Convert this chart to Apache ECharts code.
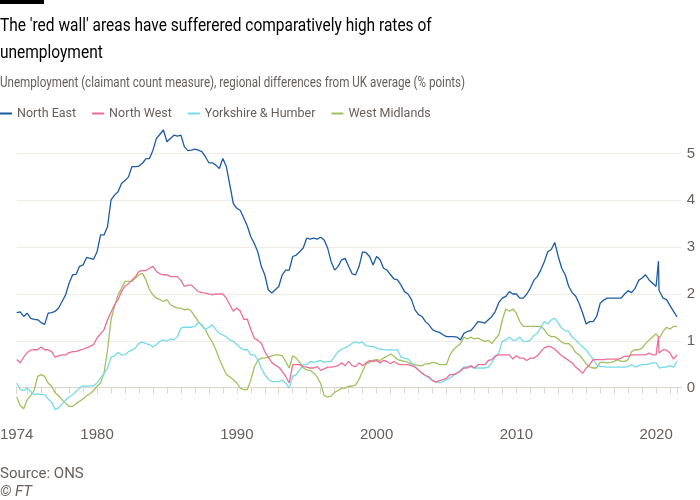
<!DOCTYPE html>
<html><head><meta charset="utf-8">
<script src="https://cdn.jsdelivr.net/npm/echarts@6/dist/echarts.min.js"></script>
<style>html,body{margin:0;padding:0;background:#fff}#c{width:700px;height:500px}</style>
</head><body><div id="c"></div>
<script>
// ---- data (quarterly readings, differences from UK average, % points) ----
const seriesNames = ['North East', 'North West', 'Yorkshire & Humber', 'West Midlands'];
const startYear = 1974.25;   // first quarterly observation (Apr 1974)
const stepYears = 0.25;      // quarterly
const axisStartMonth = [1974, 4];
const axisEndMonth = [2021, 11];
const lastDataMonth = '2021-07';
const xLabelYears = [1974, 1980, 1990, 2000, 2010, 2020];
const yTickValues = [0, 1, 2, 3, 4, 5];

const northEast = [
  1.60, 1.62, 1.52,
  1.59, 1.48, 1.46, 1.45,  1.39, 1.35, 1.59, 1.60,  1.63, 1.70, 1.84, 1.98,
  2.23, 2.41, 2.42, 2.59,  2.62, 2.78, 2.76, 2.74,  2.90, 3.26, 3.26, 3.44,
  4.01, 4.11, 4.18, 4.36,  4.42, 4.50, 4.72, 4.72,  4.73, 4.79, 4.89, 4.89,
  5.07, 5.32, 5.41, 5.50,  5.25, 5.32, 5.39, 5.37,  5.39, 5.14, 5.06, 5.07,
  5.09, 5.07, 5.04, 4.93,  4.80, 4.80, 4.75, 4.68,  4.89, 4.72, 4.33, 3.93,
  3.83, 3.78, 3.62, 3.45,  3.22, 3.08, 2.90, 2.59,  2.41, 2.09, 2.02, 2.09,
  2.16, 2.41, 2.51, 2.51,  2.80, 2.83, 2.90, 2.98,  3.19, 3.17, 3.19, 3.17,
  3.21, 3.15, 2.98, 2.69,  2.51, 2.59, 2.73, 2.76,  2.59, 2.43, 2.41, 2.59,
  2.90, 2.88, 2.80, 2.62,  2.80, 2.73, 2.55, 2.51,  2.41, 2.32, 2.30, 2.19,
  2.05, 2.00, 1.88, 1.66,  1.56, 1.52, 1.41, 1.34,  1.24, 1.20, 1.18, 1.13,
  1.09, 1.09, 1.09, 1.08,  1.02, 1.16, 1.20, 1.22,  1.31, 1.41, 1.40, 1.38,
  1.45, 1.52, 1.63, 1.82,  1.91, 1.95, 2.05, 2.00,  2.00, 1.91, 1.91, 2.00,
  2.12, 2.29, 2.37, 2.51,  2.69, 2.90, 2.95, 3.10,  2.80, 2.55, 2.41, 2.16,
  2.03, 1.95, 1.79, 1.59,  1.36, 1.41, 1.41, 1.52,  1.80, 1.87, 1.91, 1.91,
  1.91, 1.91, 1.91, 2.00,  2.07, 2.03, 2.12, 2.29,  2.34, 2.41, 2.30, 2.23,
  2.16, 2.05, 1.91, 1.88,
  1.75, 1.63, 1.51
];
const northEastExtra = [[2020.13, 2.12], [2020.17, 2.70], [2020.21, 2.08]];

const northWest = [
  0.60, 0.53, 0.65,
  0.75, 0.80, 0.81, 0.81,  0.87, 0.81, 0.81, 0.77,  0.65, 0.68, 0.70, 0.70,
  0.75, 0.77, 0.77, 0.80,  0.82, 0.85, 0.88, 0.92,  1.06, 1.15, 1.24, 1.45,
  1.61, 1.77, 1.88, 2.05,  2.17, 2.22, 2.30, 2.37,  2.48, 2.50, 2.50, 2.55,
  2.59, 2.48, 2.43, 2.41,  2.41, 2.37, 2.37, 2.37,  2.29, 2.16, 2.19, 2.19,
  2.12, 2.05, 2.03, 2.02,  2.00, 1.98, 2.00, 2.00,  2.00, 1.91, 1.77, 1.63,
  1.70, 1.63, 1.46, 1.46,  1.24, 1.06, 1.01, 0.95,  0.77, 0.65, 0.54, 0.48,
  0.44, 0.35, 0.24, 0.10,  0.49, 0.49, 0.49, 0.45,  0.44, 0.42, 0.42, 0.45,
  0.37, 0.40, 0.44, 0.44,  0.45, 0.47, 0.53, 0.47,  0.56, 0.47, 0.45, 0.53,
  0.47, 0.53, 0.58, 0.56,  0.58, 0.53, 0.58, 0.56,  0.51, 0.56, 0.51, 0.49,
  0.49, 0.49, 0.47, 0.44,  0.38, 0.31, 0.26, 0.23,  0.15, 0.12, 0.15, 0.17,
  0.20, 0.28, 0.28, 0.31,  0.35, 0.42, 0.42, 0.47,  0.42, 0.49, 0.49, 0.49,
  0.58, 0.60, 0.68, 0.70,  0.70, 0.70, 0.70, 0.61,  0.68, 0.63, 0.63, 0.58,
  0.63, 0.63, 0.68, 0.77,  0.85, 0.88, 0.87, 0.82,  0.75, 0.68, 0.63, 0.58,
  0.53, 0.44, 0.38, 0.31,  0.42, 0.49, 0.60, 0.60,  0.60, 0.60, 0.61, 0.61,
  0.61, 0.61, 0.63, 0.67,  0.67, 0.70, 0.70, 0.70,  0.70, 0.70, 0.74, 0.70,
  0.70, 0.74, 0.81, 0.80,
  0.74, 0.61, 0.70
];
const northWestExtra = [[2020.13, 0.72], [2020.17, 1.09], [2020.21, 0.74]];

const yorkshire = [
  0.10, -0.04, -0.06,
  -0.01, -0.08, -0.15, -0.13,  -0.15, -0.15, -0.24, -0.31,  -0.47, -0.43, -0.34, -0.27,
  -0.20, -0.15, -0.08, -0.01,  0.04, 0.03, 0.04, 0.04,  0.10, 0.21, 0.30, 0.42,
  0.65, 0.68, 0.75, 0.70,  0.70, 0.77, 0.80, 0.85,  0.95, 0.97, 0.94, 0.92,
  0.87, 0.92, 0.99, 1.02,  0.99, 1.04, 1.02, 1.09,  1.27, 1.29, 1.29, 1.29,
  1.31, 1.39, 1.34, 1.24,  1.29, 1.34, 1.24, 1.16,  1.13, 1.08, 1.02, 0.99,
  0.92, 0.85, 0.81, 0.81,  0.70, 0.70, 0.60, 0.42,  0.28, 0.18, 0.13, 0.13,
  0.13, 0.16, 0.10, -0.01,  0.24, 0.28, 0.38, 0.49,  0.49, 0.56, 0.54, 0.56,
  0.58, 0.54, 0.56, 0.56,  0.67, 0.77, 0.82, 0.85,  0.89, 0.95, 0.97, 0.95,
  0.97, 0.89, 0.88, 0.88,  0.85, 0.82, 0.81, 0.80,  0.81, 0.80, 0.81, 0.65,
  0.63, 0.61, 0.54, 0.45,  0.37, 0.31, 0.26, 0.21,  0.16, 0.13, 0.10, 0.13,
  0.17, 0.21, 0.26, 0.31,  0.37, 0.44, 0.45, 0.44,  0.42, 0.42, 0.42, 0.42,
  0.44, 0.54, 0.65, 0.75,  0.99, 1.02, 1.08, 1.01,  1.02, 1.08, 0.99, 0.99,
  1.01, 1.11, 1.16, 1.29,  1.41, 1.36, 1.45, 1.48,  1.38, 1.27, 1.22, 1.20,
  1.08, 1.02, 0.94, 0.87,  0.81, 0.70, 0.61, 0.49,  0.45, 0.45, 0.44, 0.44,
  0.44, 0.44, 0.44, 0.44,  0.45, 0.49, 0.44, 0.47,  0.49, 0.49, 0.51, 0.53,
  0.53, 0.42, 0.44, 0.44,
  0.47, 0.44, 0.56
];

const westMidlands = [
  -0.20, -0.38, -0.45,
  -0.26, -0.17, -0.06, 0.24,  0.28, 0.24, 0.10, 0.03,  -0.11, -0.17, -0.26, -0.33,
  -0.40, -0.40, -0.34, -0.29,  -0.24, -0.17, -0.13, -0.06,  0.03, 0.10, 0.31, 0.81,
  1.45, 1.73, 1.98, 2.12,  2.27, 2.27, 2.27, 2.34,  2.41, 2.44, 2.30, 2.09,
  1.98, 1.91, 1.88, 1.84,  1.88, 1.77, 1.73, 1.70,  1.70, 1.66, 1.68, 1.63,
  1.52, 1.41, 1.32, 1.24,  1.09, 0.97, 0.81, 0.61,  0.44, 0.28, 0.23, 0.17,
  0.10, -0.01, -0.04, -0.04,  0.16, 0.44, 0.58, 0.63,  0.63, 0.65, 0.68, 0.70,
  0.70, 0.68, 0.56, 0.42,  0.68, 0.63, 0.54, 0.42,  0.38, 0.37, 0.31, 0.23,
  0.09, -0.17, -0.20, -0.18,  -0.10, -0.06, -0.01, -0.01,  0.03, 0.03, 0.06, 0.18,
  0.35, 0.51, 0.54, 0.58,  0.60, 0.58, 0.63, 0.67,  0.72, 0.67, 0.60, 0.58,
  0.56, 0.54, 0.51, 0.49,  0.47, 0.47, 0.51, 0.51,  0.54, 0.53, 0.49, 0.49,
  0.49, 0.70, 0.81, 0.88,  0.94, 1.08, 1.04, 1.08,  1.04, 1.06, 1.02, 0.99,
  1.01, 0.94, 1.04, 1.13,  1.45, 1.68, 1.63, 1.68,  1.59, 1.41, 1.31, 1.31,
  1.31, 1.31, 1.31, 1.31,  1.24, 1.13, 1.09, 1.09,  1.04, 0.97, 0.94, 0.94,
  0.87, 0.75, 0.70, 0.61,  0.51, 0.44, 0.42, 0.42,  0.54, 0.54, 0.53, 0.54,
  0.56, 0.60, 0.56, 0.56,  0.60, 0.77, 0.81, 0.81,  0.85, 0.94, 1.02, 1.08,
  1.15, 1.06, 1.20, 1.29,
  1.25, 1.31, 1.31
];

const seriesColors = ['#1d5ba3', '#ee6d96', '#74dbe8', '#a3c05f'];

// ---- build ----
function toPairs(values, extra) {
  const pts = values.map((v, i) => [startYear + i * stepYears, v]);
  (extra || []).forEach(p => pts.push(p));
  pts.sort((a, b) => a[0] - b[0]);
  return pts;
}
const monthCats = [];
for (let y = axisStartMonth[0], m = axisStartMonth[1]; y < axisEndMonth[0] || (y === axisEndMonth[0] && m <= axisEndMonth[1]);) {
  monthCats.push(y + '-' + String(m).padStart(2, '0'));
  m++; if (m > 12) { m = 1; y++; }
}
const xMin = axisStartMonth[0] + (axisStartMonth[1] - 1) / 12;
const xMax = xMin + (monthCats.length - 1) / 12;

const FONT = "Roboto, 'Liberation Sans', sans-serif";
const NUM = "'Liberation Sans', Arial, sans-serif";
const GREY = '#66605c';

const allData = [northEast, northWest, yorkshire, westMidlands];
const extras = [northEastExtra, northWestExtra, null, null];

function label(text, x, y, size, color, sx, italic) {
  return { type: 'text', x: x, y: y, scaleX: sx, scaleY: 1, silent: true,
    style: { text: text, fill: color, font: (italic ? 'italic ' : '') + 'normal ' + size + 'px ' + FONT,
      textAlign: 'left', textVerticalAlign: 'middle', verticalAlign: 'middle' } };
}

const chart = echarts.init(document.getElementById('c'), null, { renderer: 'canvas' });
chart.setOption({
  backgroundColor: '#ffffff',
  animation: false,
  graphic: [
    { type: 'rect', x: 0, y: 0, shape: { width: 44, height: 4 }, style: { fill: '#000' }, silent: true },
    label("The 'red wall' areas have sufferered comparatively high rates of", 0, 26.5, 18, '#000', 0.86),
    label('unemployment', 0, 53, 18, '#000', 0.86),
    label('Unemployment (claimant count measure), regional differences from UK average (% points)', 0, 83.5, 14, GREY, 0.83),
    label('Source: ONS', 0, 474, 15, GREY, 1),
    label('© FT', 0, 492, 15, GREY, 1, true)
  ],
  legend: {
    data: seriesNames, left: 0, top: 107, padding: 0, itemWidth: 12, itemHeight: 2, itemGap: 16, icon: 'rect',
    textStyle: { fontFamily: FONT, fontSize: 12.5, color: GREY }
  },
  grid: [
    { left: 16.7, right: 18.3, top: 153.4, height: 234.3, outerBoundsMode: 'none', containLabel: false },
    { left: 16.7, right: 18.3, top: 130, height: 281.1, outerBoundsMode: 'none', containLabel: false }
  ],
  xAxis: [
    { gridIndex: 1, type: 'category', data: monthCats, boundaryGap: false, position: 'bottom',
      axisLine: { show: true, lineStyle: { color: '#ddd6cf', width: 1 } },
      axisTick: { show: true, length: 6, lineStyle: { color: '#ddd6cf' },
        interval: (i, v) => i === 0 || v.endsWith('-01') || v === lastDataMonth },
      axisLabel: { margin: 16, fontFamily: NUM, fontSize: 15, color: GREY,
        interval: (i, v) => (i === 0 && +v.slice(0, 4) === xLabelYears[0]) || (v.endsWith('-01') && xLabelYears.indexOf(+v.slice(0, 4)) > 0),
        formatter: v => v.slice(0, 4) },
      splitLine: { show: false } },
    { gridIndex: 1, type: 'value', min: xMin, max: xMax, show: false },
    { gridIndex: 0, type: 'value', min: 0, max: 1, show: false }
  ],
  yAxis: [
    { gridIndex: 0, type: 'value', position: 'right', min: yTickValues[0], max: yTickValues[yTickValues.length - 1], interval: 1,
      axisLine: { show: false }, axisTick: { show: false },
      axisLabel: { margin: 5, fontFamily: NUM, fontSize: 15, color: GREY },
      splitLine: { show: true, lineStyle: { width: 1, color: ['#d4ccc4', '#f1ebe6', '#f1ebe6', '#f1ebe6', '#f1ebe6', '#f1ebe6'] } } },
    { gridIndex: 1, type: 'value', min: -0.5, max: 5.5, show: false }
  ],
  series: allData.map((vals, k) => ({
    name: seriesNames[k], type: 'line', xAxisIndex: 1, yAxisIndex: 1,
    data: toPairs(vals, extras[k]), symbol: 'none', showSymbol: false, clip: false,
    color: seriesColors[k], lineStyle: { width: 1.3, color: seriesColors[k] }, z: 2 + (3 - k)
  }))
});
</script></body></html>
